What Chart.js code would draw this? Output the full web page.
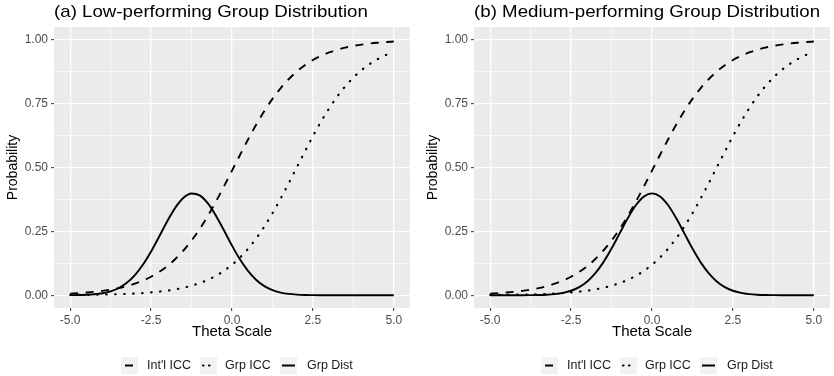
<!DOCTYPE html>
<html>
<head>
<meta charset="utf-8">
<script src="https://cdn.jsdelivr.net/npm/chart.js@4/dist/chart.umd.min.js"></script>
<style>
  body { margin: 0; background: #fff; font-family: "Liberation Sans", Arial, sans-serif; }
  #wrap { position: relative; width: 834px; height: 376px; overflow: hidden; }
  .panel { position: absolute; top: 0; height: 376px; }
  .panel canvas { position: absolute; left: 0; top: 0; }
  .title { position: absolute; left: 54px; top: 4px; font-size: 17px; line-height: 16px; color: #000;
           white-space: nowrap; transform: scaleX(1.1); transform-origin: 0 0; }
  .key { position: absolute; top: 357px; width: 17px; height: 17px; background: #f2f2f2; }
  .key svg { display: block; }
  .lab { position: absolute; top: 359px; font-size: 12.5px; line-height: 12px; color: #1a1a1a; white-space: nowrap; }
</style>
</head>
<body>
<div id="wrap">
  <div class="panel" style="left:0;width:420px">
    <canvas id="chartA" width="420" height="376"></canvas>
    <div class="title">(a) Low-performing Group Distribution</div>
  </div>
  <div class="panel" style="left:420px;width:414px">
    <canvas id="chartB" width="414" height="376"></canvas>
    <div class="title">(b) Medium-performing Group Distribution</div>
  </div>
</div>
<script>
// theta grid (x values)
const theta = [-5, -4.75, -4.5, -4.25, -4, -3.75, -3.5, -3.25, -3, -2.75, -2.5, -2.25, -2, -1.75, -1.5, -1.25,
  -1, -0.75, -0.5, -0.25, 0, 0.25, 0.5, 0.75, 1, 1.25, 1.5, 1.75, 2, 2.25, 2.5, 2.75, 3, 3.25, 3.5, 3.75,
  4, 4.25, 4.5, 4.75, 5];

// Int'l ICC (dashed) - same in both panels
const intlICC = [0.0064, 0.0082, 0.0105, 0.0134, 0.0171, 0.0219, 0.0279, 0.0356, 0.0452, 0.0573, 0.0724,
  0.0911, 0.1140, 0.1419, 0.1751, 0.2142, 0.2592, 0.3100, 0.3659, 0.4256, 0.4875, 0.5498, 0.6106, 0.6682,
  0.7211, 0.7685, 0.8100, 0.8455, 0.8754, 0.9002, 0.9206, 0.9370, 0.9503, 0.9608, 0.9693, 0.9759, 0.9811,
  0.9852, 0.9884, 0.9910, 0.9930];

// Grp ICC (dotted)
const grpICC = [0.0009, 0.0012, 0.0015, 0.0019, 0.0025, 0.0032, 0.0041, 0.0052, 0.0067, 0.0086, 0.0110,
  0.0141, 0.0180, 0.0230, 0.0293, 0.0373, 0.0474, 0.0601, 0.0759, 0.0953, 0.1192, 0.1480, 0.1824, 0.2227,
  0.2689, 0.3208, 0.3775, 0.4378, 0.5000, 0.5622, 0.6225, 0.6792, 0.7311, 0.7773, 0.8176, 0.8520, 0.8808,
  0.9047, 0.9241, 0.9399, 0.9526];

// Grp Dist (solid), panel (a) low-performing
const grpDistLow = [0.0003, 0.0007, 0.0017, 0.0038, 0.0079, 0.0154, 0.0283, 0.0488, 0.0790, 0.1200, 0.1714,
  0.2299, 0.2897, 0.3429, 0.3814, 0.3984, 0.3910, 0.3605, 0.3123, 0.2541, 0.1942, 0.1394, 0.0940, 0.0596,
  0.0355, 0.0198, 0.0104, 0.0051, 0.0024, 0.0010, 0.0004, 0.0001, 0, 0, 0, 0, 0, 0, 0, 0, 0];

// Grp Dist (solid), panel (b) medium-performing
const grpDistMed = [0, 0, 0, 0.0001, 0.0001, 0.0004, 0.0009, 0.0020, 0.0044, 0.0091, 0.0175, 0.0317, 0.0540,
  0.0863, 0.1295, 0.1826, 0.2420, 0.3011, 0.3521, 0.3867, 0.3989, 0.3867, 0.3521, 0.3011, 0.2420, 0.1826,
  0.1295, 0.0863, 0.0540, 0.0317, 0.0175, 0.0091, 0.0044, 0.0020, 0.0009, 0.0004, 0.0001, 0.0001, 0, 0, 0];

const xMajor = [-5, -2.5, 0, 2.5, 5];
const xMinor = [-3.75, -1.25, 1.25, 3.75];
const yMajor = [0, 0.25, 0.5, 0.75, 1];
const yMinor = [0.125, 0.375, 0.625, 0.875];
const seriesNames = ["Int'l ICC", 'Grp ICC', 'Grp Dist'];

const FONT = '"Liberation Sans", Arial, sans-serif';

const panelBg = {
  id: 'panelBg',
  beforeDraw(chart) {
    const a = chart.chartArea, ctx = chart.ctx;
    ctx.save();
    ctx.fillStyle = '#ebebeb';
    ctx.fillRect(a.left, a.top, a.right - a.left, a.bottom - a.top);
    ctx.restore();
  }
};

function pts(ys) {
  return theta.map((t, i) => ({ x: t, y: ys[i] }));
}

function makeChart(id, dist, padRight) {
  const isMaj = (list) => (c) => c.tick && list.includes(c.tick.value);
  const xMaj = isMaj(xMajor), yMaj = isMaj(yMajor);
  return new Chart(document.getElementById(id), {
    type: 'line',
    data: {
      datasets: [
        { label: seriesNames[0], data: pts(intlICC), borderColor: '#000', borderWidth: 1.9,
          borderDash: [8, 7.5] },
        { label: seriesNames[1], data: pts(grpICC), borderColor: '#000', borderWidth: 2.2,
          borderDash: [0.5, 8.5], borderCapStyle: 'round' },
        { label: seriesNames[2], data: pts(dist), borderColor: '#000', borderWidth: 1.9 }
      ]
    },
    options: {
      responsive: false,
      animation: false,
      cubicInterpolationMode: 'monotone',
      elements: { point: { radius: 0 } },
      layout: { padding: { top: 27, right: padRight, bottom: 32, left: 0 } },
      plugins: { legend: { display: false }, tooltip: { enabled: false } },
      scales: {
        x: {
          type: 'linear', min: -5.5, max: 5.5,
          afterBuildTicks: s => { s.ticks = xMajor.concat(xMinor).sort((a, b) => a - b).map(v => ({ value: v })); },
          afterFit: s => { s.height = 36; },
          border: { display: false },
          grid: { color: '#fff', lineWidth: c => xMaj(c) ? 1.3 : 0.65, tickLength: 3,
                  tickColor: c => xMaj(c) ? '#333' : 'rgba(0,0,0,0)', tickWidth: 1 },
          ticks: { color: '#4d4d4d', font: { size: 12, family: FONT }, padding: 2, autoSkip: false, maxRotation: 0,
                   callback: v => xMajor.includes(v) ? v.toFixed(1) : '' },
          title: { display: true, text: 'Theta Scale', color: '#000', font: { size: 15, family: FONT },
                   padding: { top: 0, bottom: 3 } }
        },
        y: {
          type: 'linear', min: -0.05, max: 1.05,
          afterBuildTicks: s => { s.ticks = yMajor.concat(yMinor).sort((a, b) => a - b).map(v => ({ value: v })); },
          afterFit: s => { s.width = 54; },
          border: { display: false },
          grid: { color: '#fff', lineWidth: c => yMaj(c) ? 1.3 : 0.65, tickLength: 3,
                  tickColor: c => yMaj(c) ? '#333' : 'rgba(0,0,0,0)', tickWidth: 1 },
          ticks: { color: '#4d4d4d', font: { size: 12, family: FONT }, padding: 3, autoSkip: false,
                   callback: v => yMajor.includes(v) ? v.toFixed(2) : '' },
          title: { display: true, text: 'Probability', color: '#000', font: { size: 14, family: FONT },
                   padding: { top: 5, bottom: 0 } }
        }
      }
    },
    plugins: [panelBg]
  });
}

// HTML legend under each panel
function addLegend(panel) {
  const keys = [
    { x: 121, lab: 147, line: '<line x1="3" y1="8.5" x2="14" y2="8.5" stroke="#000" stroke-width="2" stroke-dasharray="8 6" stroke-dashoffset="-1"/>' },
    { x: 200, lab: 225, line: '<line x1="3" y1="8.5" x2="15" y2="8.5" stroke="#000" stroke-width="2.2" stroke-linecap="round" stroke-dasharray="0.5 5.5"/>' },
    { x: 280, lab: 307, line: '<line x1="2" y1="8.5" x2="15" y2="8.5" stroke="#000" stroke-width="2"/>' }
  ];
  keys.forEach((k, i) => {
    const box = document.createElement('div');
    box.className = 'key';
    box.style.left = k.x + 'px';
    box.innerHTML = '<svg width="17" height="17">' + k.line + '</svg>';
    panel.appendChild(box);
    const lab = document.createElement('div');
    lab.className = 'lab';
    lab.style.left = k.lab + 'px';
    lab.textContent = seriesNames[i];
    panel.appendChild(lab);
  });
}

makeChart('chartA', grpDistLow, 10);
makeChart('chartB', grpDistMed, 4);
document.querySelectorAll('.panel').forEach(addLegend);
</script>
</body>
</html>
